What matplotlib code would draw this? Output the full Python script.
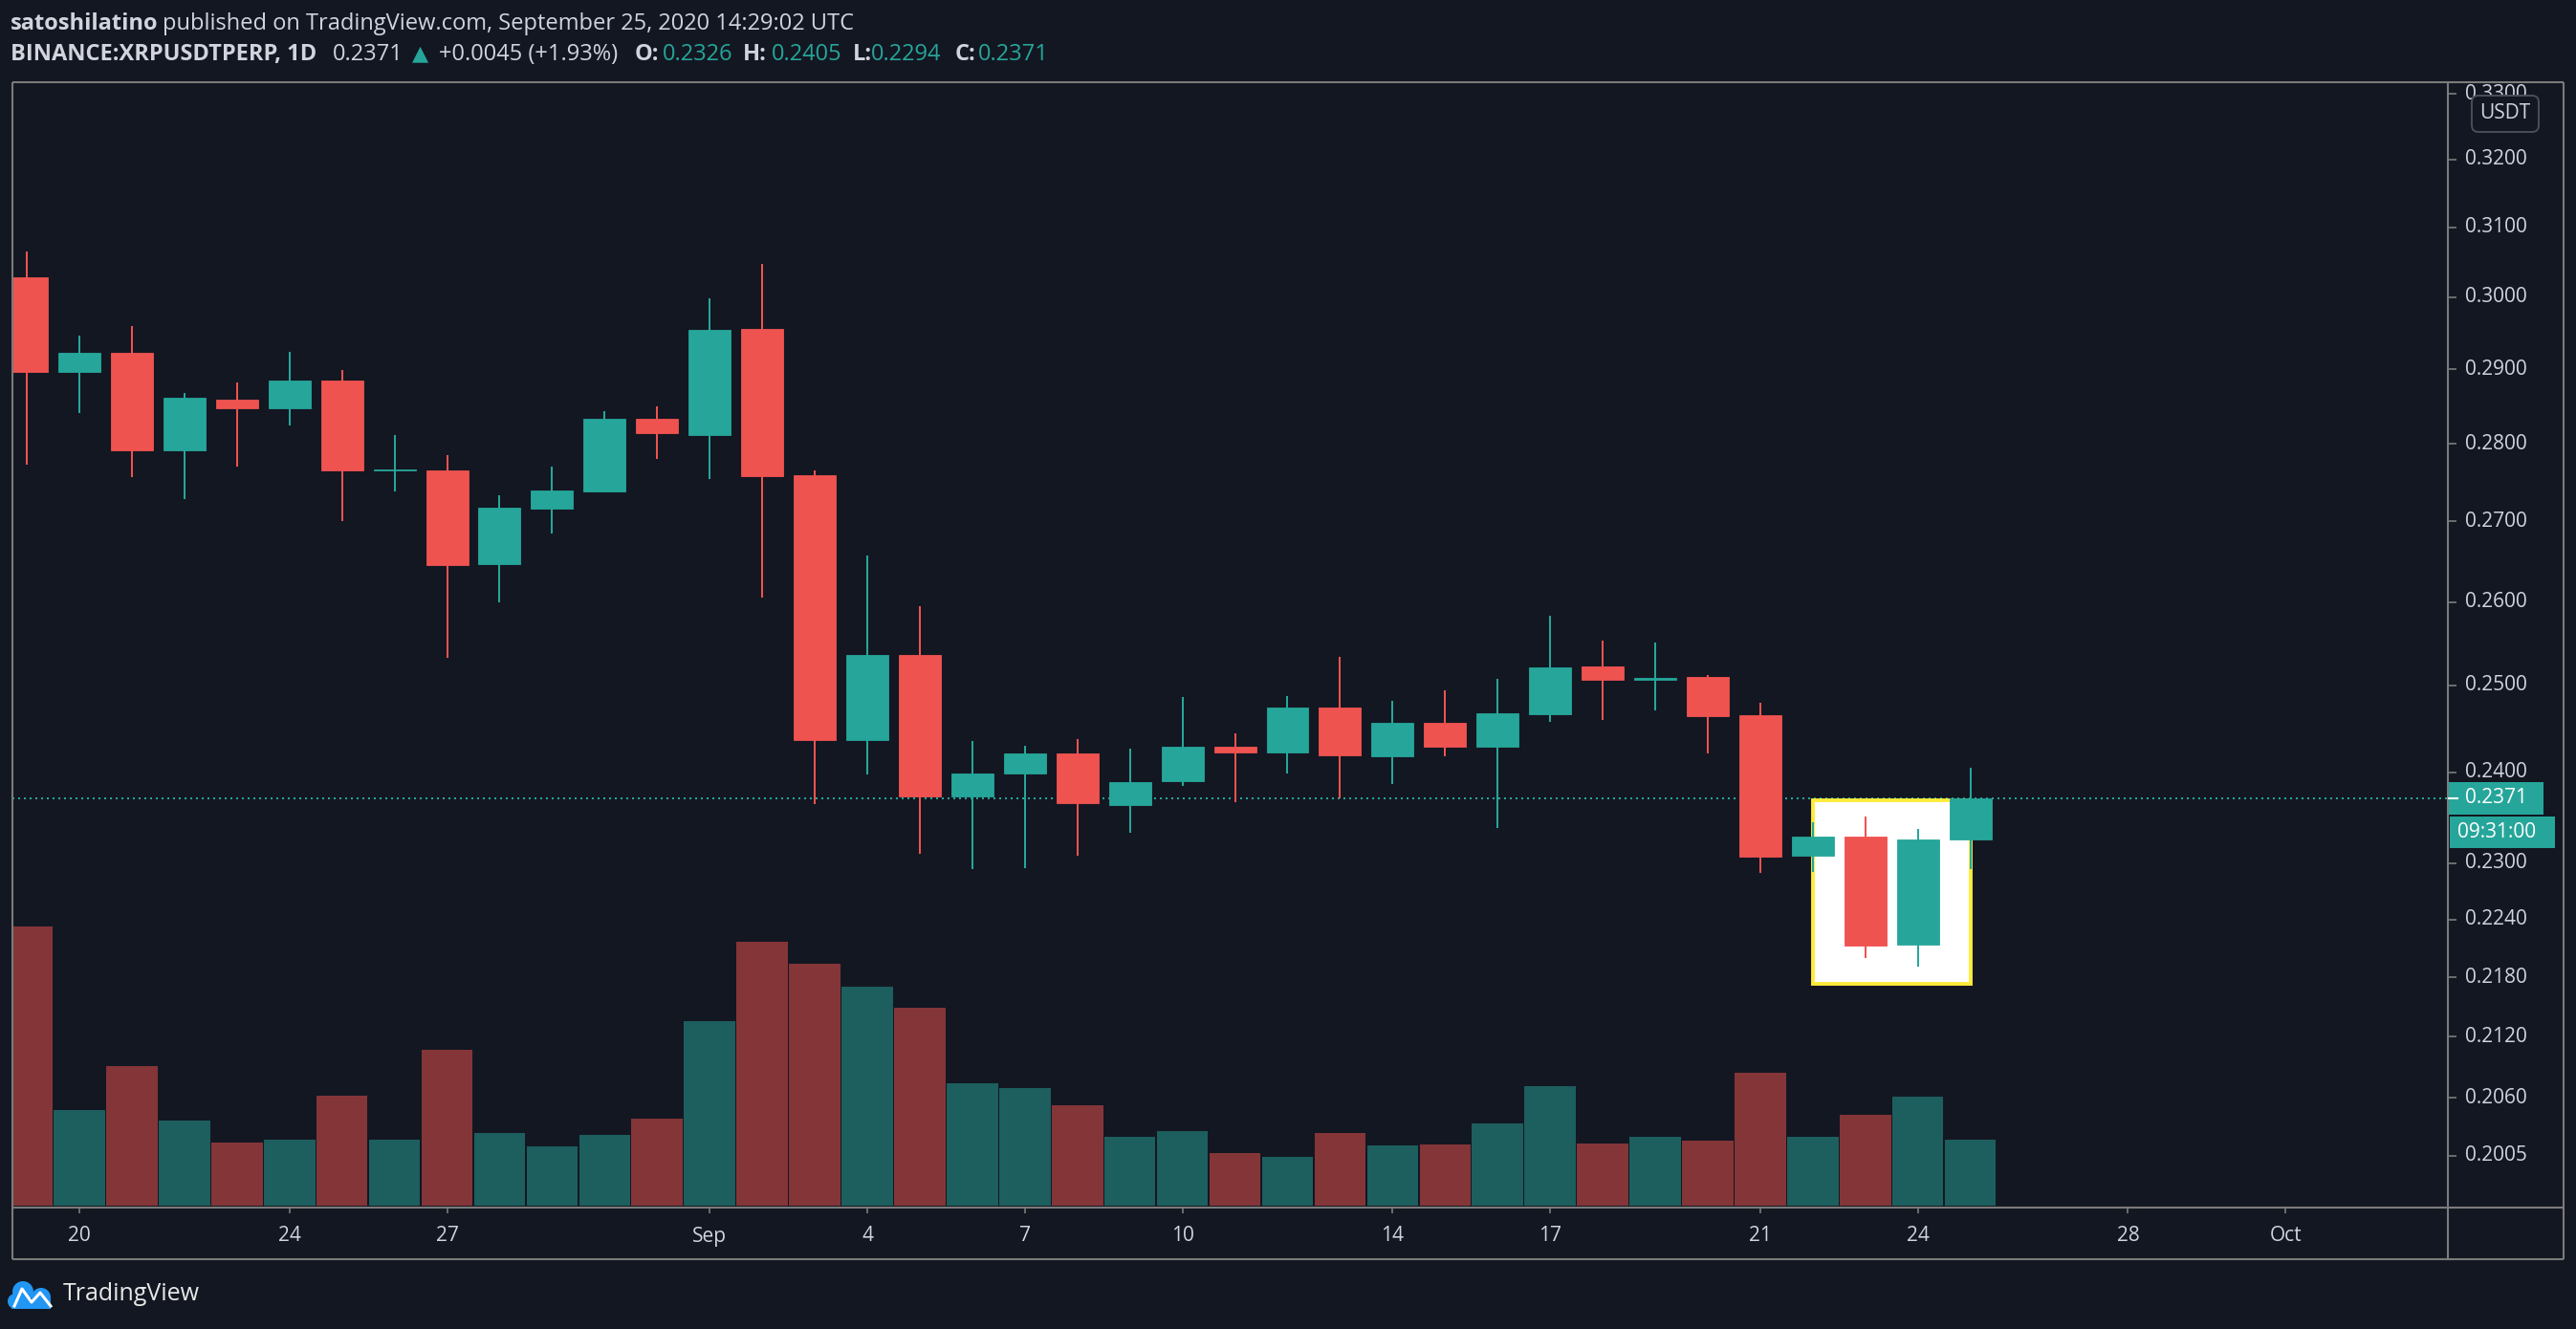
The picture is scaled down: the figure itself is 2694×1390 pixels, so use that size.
import numpy as np
import pandas as pd
import matplotlib
matplotlib.use('Agg')
import matplotlib.pyplot as plt
import matplotlib.dates as mdates
import matplotlib.transforms as mtrans
from matplotlib.patches import Rectangle, FancyBboxPatch, Circle
from matplotlib.lines import Line2D
from matplotlib.ticker import FixedLocator, NullLocator, NullFormatter

# ---------------- data ----------------
dates = pd.date_range('2020-08-19', '2020-09-25', freq='D')
opens = [0.3028, 0.2897, 0.2923, 0.2792, 0.2859, 0.2848, 0.2885, 0.2765, 0.2766, 0.2646,
         0.2717, 0.2738, 0.2834, 0.2812, 0.2955, 0.2760, 0.2437, 0.2536, 0.2373, 0.2399,
         0.2422, 0.2364, 0.2390, 0.2429, 0.2423, 0.2474, 0.2418, 0.2457, 0.2429, 0.2467,
         0.2522, 0.2507, 0.2510, 0.2465, 0.2308, 0.2329, 0.2214, 0.2326]
highs = [0.3065, 0.2946, 0.2960, 0.2868, 0.2882, 0.2924, 0.2899, 0.2812, 0.2785, 0.2734,
         0.2771, 0.2844, 0.2850, 0.2998, 0.3047, 0.2766, 0.2657, 0.2595, 0.2436, 0.2430,
         0.2438, 0.2427, 0.2486, 0.2445, 0.2488, 0.2534, 0.2482, 0.2494, 0.2508, 0.2583,
         0.2553, 0.2551, 0.2512, 0.2480, 0.2345, 0.2351, 0.2337, 0.2405]
lows = [0.2773, 0.2841, 0.2757, 0.2729, 0.2771, 0.2824, 0.2700, 0.2739, 0.2533, 0.2599,
        0.2685, 0.2737, 0.2780, 0.2755, 0.2605, 0.2365, 0.2398, 0.2310, 0.2294, 0.2295,
        0.2308, 0.2333, 0.2385, 0.2367, 0.2399, 0.2371, 0.2387, 0.2418, 0.2338, 0.2458,
        0.2460, 0.2471, 0.2421, 0.2289, 0.2290, 0.2200, 0.2191, 0.2294]
closes = [0.2897, 0.2923, 0.2792, 0.2861, 0.2848, 0.2885, 0.2765, 0.2767, 0.2645, 0.2718,
          0.2740, 0.2834, 0.2814, 0.2954, 0.2758, 0.2437, 0.2536, 0.2373, 0.2399, 0.2422,
          0.2366, 0.2389, 0.2429, 0.2423, 0.2474, 0.2419, 0.2457, 0.2429, 0.2468, 0.2521,
          0.2507, 0.2509, 0.2464, 0.2307, 0.2329, 0.2213, 0.2326, 0.2371]
volumes = [87.6, 30.0, 43.8, 26.7, 19.8, 20.7, 34.5, 20.7, 48.9, 22.8,
           18.6, 22.2, 27.3, 57.9, 82.8, 75.9, 68.7, 62.1, 38.4, 36.9,
           31.5, 21.6, 23.4, 16.5, 15.3, 22.8, 18.9, 19.2, 25.8, 37.5,
           19.5, 21.6, 20.4, 41.7, 21.6, 28.5, 34.2, 20.7]

price_ticks = [0.3300, 0.3200, 0.3100, 0.3000, 0.2900, 0.2800, 0.2700, 0.2600, 0.2500,
               0.2400, 0.2300, 0.2240, 0.2180, 0.2120, 0.2060, 0.2005]
price_tick_labels = ['0.3300', '0.3200', '0.3100', '0.3000', '0.2900', '0.2800', '0.2700',
                     '0.2600', '0.2500', '0.2400', '0.2300', '0.2240', '0.2180', '0.2120',
                     '0.2060', '0.2005']
time_ticks = ['2020-08-20', '2020-08-24', '2020-08-27', '2020-09-01', '2020-09-04',
              '2020-09-07', '2020-09-10', '2020-09-14', '2020-09-17', '2020-09-21',
              '2020-09-24', '2020-09-28', '2020-10-01']
time_tick_labels = ['20', '24', '27', 'Sep', '4', '7', '10', '14', '17', '21', '24', '28', 'Oct']

box_dates = ['2020-09-22', '2020-09-25']
box_prices = [0.2173, 0.2369]

header1_bold = 'satoshilatino'
header1_rest = 'published on TradingView.com, September 25, 2020 14:29:02 UTC'
symbol = 'BINANCE:XRPUSDTPERP, 1D'
last_price = '0.2371'
change = '+0.0045 (+1.93%)'
ohlc_labels = ['O:', 'H:', 'L:', 'C:']
ohlc_values = ['0.2326', '0.2405', '0.2294', '0.2371']
timer_text = '09:31:00'
currency = 'USDT'

# ---------------- style ----------------
W, H, DPI = 2694, 1390, 100
BG = '#131722'
UP, DOWN = '#26a69a', '#ef5350'
UPV, DOWNV = '#1d5e5e', '#843538'
TXT = '#d1d4dc'
BORDER = '#7b7b7b'
FAM = ['Open Sans', 'DejaVu Sans']
plt.rcParams['font.family'] = FAM

fig = plt.figure(figsize=(W / DPI, H / DPI), dpi=DPI, facecolor=BG)
ID = mtrans.IdentityTransform()


def py(y):
    return H - y


L, R, T, B = 13, 2560, 86, 1263
pos = [L / W, 1 - B / H, (R - L) / W, (B - T) / H]
axv = fig.add_axes(pos)
axv.set_facecolor(BG)
ax = fig.add_axes(pos, sharex=axv)
ax.patch.set_alpha(0)

x = mdates.date2num(dates.to_pydatetime())
o, h, l, c = map(np.asarray, (opens, highs, lows, closes))
up = c >= o
cols = np.where(up, UP, DOWN)
vcols = np.where(up, UPV, DOWNV)

# volume
axv.bar(x, volumes, width=0.975, color=vcols, linewidth=0, zorder=1)
axv.set_ylim(-0.6, 352.5)

# price
ax.set_yscale('log')
ax.set_ylim(0.19566, 0.33184)
ax.set_xlim(x[0] - 0.274, x[0] + 46.09)

bx = mdates.date2num(pd.to_datetime(box_dates).to_pydatetime())
ax.add_patch(Rectangle((bx[0], box_prices[0]), bx[1] - bx[0], box_prices[1] - box_prices[0],
                       facecolor='white', edgecolor='#ffeb3b', linewidth=2.8, zorder=2))

ax.axhline(c[-1], color=UP, linewidth=1.44, linestyle=(0, (1, 2)), zorder=1.5)
ax.vlines(x, l, h, colors=cols, linewidth=1.44, zorder=3)
ax.bar(x, np.abs(c - o), bottom=np.minimum(o, c), width=0.8, color=cols,
       edgecolor=cols, linewidth=0.6, zorder=4)

for a in (ax, axv):
    for s in a.spines.values():
        s.set_visible(False)
    a.tick_params(axis='both', which='both', labelleft=False, labelright=False,
                  labelbottom=False, left=False, bottom=False, right=False, top=False)
axv.yaxis.set_major_locator(NullLocator())
ax.yaxis.set_minor_locator(NullLocator())
ax.yaxis.set_minor_formatter(NullFormatter())

tx = mdates.date2num(pd.to_datetime(time_ticks).to_pydatetime())
ax.xaxis.set_major_locator(FixedLocator(tx))
ax.tick_params(axis='x', which='major', bottom=True, length=4.5, width=1.2, color=BORDER,
               direction='out')
ax.yaxis.set_major_locator(FixedLocator(price_ticks))
ax.yaxis.set_major_formatter(NullFormatter())
ax.tick_params(axis='y', which='major', right=True, length=6.5, width=1.2, color=BORDER,
               direction='out')

# time labels
tb = mtrans.blended_transform_factory(ax.transData, ID)
for t, s in zip(tx, time_tick_labels):
    ax.text(t, py(1293), s, transform=tb, ha='center', va='center', color=TXT,
            fontsize=15, clip_on=False)

# price labels
pb = mtrans.blended_transform_factory(ID, ax.transData)
for p, s in zip(price_ticks, price_tick_labels):
    fig.text(2578, p, s, transform=pb, ha='left', va='center', color=TXT, fontsize=15)

# border lines
def pline(x0, y0, x1, y1, lw=1.5, color=BORDER, z=10):
    fig.add_artist(Line2D([x0, x1], [py(y0), py(y1)], transform=ID, color=color,
                          linewidth=lw, zorder=z, solid_capstyle='butt'))

pline(13, 86, 2681, 86)
pline(13, 1317, 2681, 1317)
pline(13, 86, 13, 1317)
pline(2681, 86, 2681, 1317)
pline(2560, 86, 2560, 1317)
pline(13, 1263, 2681, 1263)

# USDT badge
fig.add_artist(FancyBboxPatch((2585, py(138)), 70, 38, boxstyle='round,pad=0,rounding_size=7',
                              transform=ID, facecolor=BG, edgecolor='#4a4e5a', linewidth=1.4,
                              zorder=12))
fig.text(2620, py(119), currency, transform=ID, ha='center', va='center', color=TXT,
         fontsize=15, zorder=13)

# current price badge
yc = ax.transData.transform((x[0], c[-1]))[1]
fig.add_artist(Rectangle((2561, yc - 17), 99, 34, transform=ID, facecolor=UP,
                         edgecolor='none', zorder=12))
fig.add_artist(Line2D([2561, 2570], [yc, yc], transform=ID, color='white', linewidth=1.5,
                      zorder=13))
fig.text(2578, yc, last_price, transform=ID, ha='left', va='center', color='white',
         fontsize=15, zorder=13)
fig.add_artist(Rectangle((2562, yc - 52), 110, 33, transform=ID, facecolor=UP,
                         edgecolor='none', zorder=12))
fig.text(2570, yc - 35.5, timer_text, transform=ID, ha='left', va='center', color='white',
         fontsize=15, zorder=13)

# header
def htext(xp, yp, s, color=TXT, weight='normal', size=17):
    fig.text(xp, py(yp), s, transform=ID, ha='left', va='center', color=color,
             fontweight=weight, fontsize=size)

htext(11, 25, header1_bold, weight='bold')
htext(170, 25, header1_rest)
htext(11, 57, symbol, weight='bold')
htext(348, 57, last_price)
htext(431, 57, '\u25B2', color=UP, size=16)
htext(459, 57, change)
ox = [664, 777, 892, 999]
vx = [693, 807, 911, 1023]
for lab, val, a, b in zip(ohlc_labels, ohlc_values, ox, vx):
    htext(a, 57, lab, weight='bold')
    htext(b, 57, val, color=UP)

# TradingView logo
blue = '#2196f3'
for (cx, cy, r) in [(24, 1351, 11), (43, 1357, 10), (16, 1361, 8)]:
    fig.add_artist(Circle((cx, py(cy)), r, transform=ID, facecolor=blue, edgecolor='none',
                          zorder=12))
fig.add_artist(Rectangle((12, py(1369)), 41, 10, transform=ID, facecolor=blue,
                         edgecolor='none', zorder=12))
fig.add_artist(Line2D([15, 23, 33, 42, 53], [py(1366), py(1348), py(1362), py(1352), py(1366)],
                      transform=ID, color='white', linewidth=2.2, zorder=13))
fig.text(66, py(1353), 'TradingView', transform=ID, ha='left', va='center', color='#e8e8e8',
         fontsize=18)

fig.savefig('out.png', dpi=DPI, facecolor=BG)
